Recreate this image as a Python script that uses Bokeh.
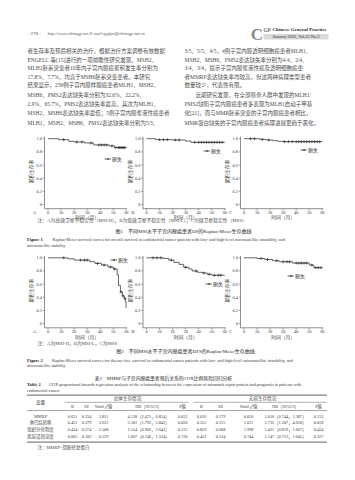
import numpy as np
from bokeh.plotting import figure
from bokeh.models import Range1d, Legend, LegendItem
from bokeh.core.properties import value
from bokeh.embed import file_html
from bokeh.resources import INLINE

W, H = 355, 480
SERIF = "'Liberation Serif', 'Noto Sans CJK SC'"
INK = "#3a3a3a"
BODY = "#4a4a4a"

# ---------------- data ----------------
month_ticks = [0, 10, 20, 30, 40, 50, 60]
surv_ticks = [0.0, 0.2, 0.4, 0.6, 0.8, 1.0]
surv_tick_labels = ["0", "0.2", "0.4", "0.6", "0.8", "1.0"]

# Figure 1: overall survival (step times in months, survival after each step, censor times)
os_msih_t = [0, 8, 16, 20, 28, 35, 47, 51, 60]
os_msih_s = [1.0, 0.985, 0.96, 0.95, 0.935, 0.905, 0.89, 0.865, 0.865]
os_msih_c = [12, 22, 26, 33, 39, 41, 43, 45, 49, 52, 54, 55, 56, 57, 58, 59]

os_msil_t = [0, 7, 20, 30, 34, 60]
os_msil_s = [1.0, 0.985, 0.98, 0.965, 0.945, 0.945]
os_msil_c = [10, 13, 16, 22, 25, 37, 40, 42, 44, 46, 48, 50, 52, 54, 56, 58]

os_mss_t = [0, 12, 17, 22, 26, 30, 60]
os_mss_s = [1.0, 0.99, 0.98, 0.97, 0.96, 0.955, 0.955]
os_mss_c = [5, 8, 14, 19, 31, 34, 37, 40, 42, 44, 46, 48, 50, 52, 54, 56, 58]

# Figure 2: disease-free survival
dfs_msih_t = [0, 15, 20, 32, 36, 41, 46, 50, 53, 54, 55.5, 57, 58.5, 59.3, 59.8, 60]
dfs_msih_s = [1.0, 0.985, 0.965, 0.94, 0.915, 0.89, 0.86, 0.83, 0.74, 0.58, 0.48, 0.42, 0.38, 0.33, 0.24, 0.24]
dfs_msih_c = [12, 25, 28, 30, 38, 43, 48, 51, 56, 57.5, 59]

dfs_msil_t = [0, 13, 17, 21, 25, 28.5, 32.5, 35, 39, 42.5, 46.5, 50, 60]
dfs_msil_s = [1.0, 0.99, 0.965, 0.93, 0.9, 0.855, 0.83, 0.8, 0.78, 0.77, 0.75, 0.735, 0.735]
dfs_msil_c = [5, 8, 11, 19, 30, 38, 44, 48, 52, 55, 57]

dfs_mss_t = [0, 10, 16, 22, 27, 37, 50, 53.5, 60]
dfs_mss_s = [1.0, 0.99, 0.975, 0.955, 0.94, 0.92, 0.89, 0.85, 0.85]
dfs_mss_c = [13, 18, 25, 30, 33, 35, 40, 42, 44, 46, 48, 52, 55, 57, 59]

# Table 2
table_vars = ["MMRP", "淋巴结转移", "组织分化程度", "肌层浸润深度"]
os_B = ["0.651", "0.431", "0.434", "0.065"]
os_SE = ["0.334", "0.379", "0.274", "0.182"]
os_wald = ["3.811", "3.625", "2.508", "0.129"]
os_HR = ["4.128（2.471，6.854）", "3.581（1.792，5.842）", "1.554（0.902，2.642）", "1.067（0.746，1.524）"]
os_P = ["0.012", "0.020", "0.113", "0.720"]
dfs_B = ["0.016", "0.355", "0.859", "0.452"]
dfs_SE = ["0.179", "0.315", "0.608", "0.524"]
dfs_wald = ["0.010", "1.011", "1.998", "0.744"]
dfs_HR = ["1.016（0.744，1.387）", "2.735（1.207，4.628）", "1.421（0.859，1.607）", "1.147（0.713，1.645）"]
dfs_P = ["0.153", "0.018", "0.434", "0.327"]
table_head = ["B", "SE", "Wald χ²值", "HR（95%CI）", "P值", "B", "SE", "Wald χ²值", "HR（95%CI）", "P值"]

# Page texts
left_col = [
    "者生存率及预后相关的治疗，根据治疗方案调整有效数据",
    "ENGELC 等[15]进行的一项前瞻性研究发现，MSH2、",
    "MLH1胚系突变者10年内子宫内膜癌累积发生率分别为",
    "17.8%、7.7%，均高于MSH6胚系突变患者。本研究",
    "结果显示，239例子宫内膜样腺癌患者MLH1、MSH2、",
    "MSH6、PMS2表达缺失率分别为32.6%、22.2%、",
    "2.9%、65.7%，PMS2表达缺失率最高，其次为MLH1、",
    "MSH2、MSH6表达缺失率最低；5例子宫内膜浆液性癌患者",
    "MLH1、MSH2、MSH6、PMS2表达缺失率分别为5/5、",
]
right_col = [
    "3/5、5/5、4/5，4例子宫内膜透明细胞癌患者MLH1、",
    "MSH2、MSH6、PMS2表达缺失率分别为4/4、2/4、",
    "3/4、3/4，提示子宫内膜浆液性癌及透明细胞癌患",
    "者MMRP表达缺失率均较高，但这两种病理类型患者",
    "数量较少，代表性有限。",
    "　　近期研究发现，在全部筛查人群中发现的MLH1/",
    "PMS2缺陷子宫内膜癌患者多表现为MLH1启动子甲基",
    "化[21]，而与MMR胚系突变的子宫内膜癌患者相比，",
    "MMR蛋白缺失的子宫内膜癌患者病理进展更趋于恶化。",
]

# ---------------- page figure ----------------
p = figure(width=W, height=H, x_range=Range1d(0, W), y_range=Range1d(H, 0),
           output_backend="svg", toolbar_location=None,
           x_axis_type=None, y_axis_type=None, min_border=0,
           outline_line_color=None, background_fill_color="white",
           border_fill_color="white")


def txt(xs, ys, texts, size, align="left", color=INK, style="normal", angle=0.0):
    p.text(x=xs, y=ys, text=texts, text_font=value(SERIF), text_font_size=f"{size}px",
           text_align=align, text_baseline="middle", text_color=color,
           text_font_style=style, angle=angle)


# header
txt([27], [33.3], ["· 278 ·"], 5.0, color=BODY)
txt([47], [33.3], ["http://www.chinagp.net    E-mail:zgqkyx@chinagp.net.cn"], 4.4, color="#5a5a5a", style="italic")
p.quad(left=[263], right=[328], top=[33.5], bottom=[39.0], fill_color="#d9d9d9", line_color=None)
txt([256.5], [33.5], ["C"], 17, align="center", color="#8a8a8a", style="bold")
txt([263], [29.2], ["GP"], 5.2, color="#6a6a6a", style="bold")
txt([272], [29.2], ["Chinese General Practice"], 5.0, color="#2a2a2a", style="bold")
txt([272], [36.3], ["January 2022, Vol.25 No.3"], 4.4, color="#2a2a2a")

# body text
line_y = [50.7, 59.2, 67.7, 76.0, 84.5, 94.0, 103.3, 112.7, 122.0]
txt([27] * 9, line_y, left_col, 5.5, color=BODY)
txt([184] * 9, line_y, right_col, 5.5, color=BODY)

# ---------------- KM panels via sub-coordinates ----------------
PXM = 1.305     # px per month
PXU = 65.8      # px per survival unit
AX = -3.5 / PXM  # y-axis position (months)
AY = -4.2 / PXU  # x-axis position (survival)
col_x0 = [47.5, 146.0, 243.5]
row_y1 = [138.2, 257.3]


def panel(ci, ri, t, s, c, letter, leg_xy):
    x0, y1 = col_x0[ci], row_y1[ri]
    sub = p.subplot(x_source=Range1d(0, 60), y_source=Range1d(0, 1),
                    x_target=Range1d(x0, x0 + 60 * PXM),
                    y_target=Range1d(y1 + PXU, y1))
    ac = "#444444"
    sub.segment(x0=[AX], y0=[AY], x1=[AX], y1=[1.03], line_color=ac, line_width=0.6)
    sub.segment(x0=[AX], y0=[AY], x1=[60.6], y1=[AY], line_color=ac, line_width=0.6)
    sub.segment(x0=[AX] * len(surv_ticks), y0=surv_ticks,
                x1=[AX - 1.8 / PXM] * len(surv_ticks), y1=surv_ticks, line_color=ac, line_width=0.5)
    sub.segment(x0=month_ticks, y0=[AY] * 7, x1=month_ticks, y1=[AY - 1.8 / PXU] * 7,
                line_color=ac, line_width=0.5)
    fs = "4.3px"
    sub.text(x=[AX] * len(surv_ticks), y=surv_ticks, text=surv_tick_labels, x_offset=-2.6,
             text_align="right", text_baseline="middle", text_font=value(SERIF),
             text_font_size=fs, text_color=INK)
    sub.text(x=month_ticks, y=[AY] * 7, text=[str(m) for m in month_ticks], y_offset=3.4,
             text_align="center", text_baseline="middle", text_font=value(SERIF),
             text_font_size=fs, text_color=INK)
    sub.text(x=[30], y=[AY], text=["时间（月）"], y_offset=9.2, text_align="center",
             text_baseline="middle", text_font=value(SERIF), text_font_size="4.8px", text_color=INK)
    sub.text(x=[AX], y=[0.5], text=["累积生存率"], x_offset=-12.8, angle=np.pi / 2,
             text_align="center", text_baseline="middle", text_font=value(SERIF),
             text_font_size="4.8px", text_color=INK)
    sub.text(x=[AX], y=[AY], text=[letter], x_offset=-10, y_offset=3.6, text_align="center",
             text_baseline="middle", text_font=value(SERIF), text_font_size="4.6px", text_color=INK)

    t = np.asarray(t, float)
    s = np.asarray(s, float)
    c = np.asarray(c, float)
    cy = s[np.searchsorted(t, c, side="right") - 1]
    r_line = sub.step(x=t, y=s, mode="after", line_color="#262626", line_width=0.7)
    r_cen = sub.scatter(x=c, y=cy, marker="cross", size=3, line_color="#262626", line_width=0.6)

    lx, ly = leg_xy
    leg = Legend(items=[LegendItem(label="删失", renderers=[r_line, r_cen])],
                 location=(lx, H - ly - 2.5), orientation="vertical",
                 label_text_font=SERIF, label_text_font_size="5px",
                 label_text_color=INK, label_height=5, glyph_height=5, glyph_width=7,
                 label_standoff=1, padding=0, margin=0, spacing=0,
                 border_line_color=None, background_fill_alpha=0)
    p.add_layout(leg)


panel(0, 0, os_msih_t, os_msih_s, os_msih_c, "A", (104, 159))
panel(1, 0, os_msil_t, os_msil_s, os_msil_c, "B", (203, 151))
panel(2, 0, os_mss_t, os_mss_s, os_mss_c, "C", (300, 150))
panel(0, 1, dfs_msih_t, dfs_msih_s, dfs_msih_c, "A", (110, 260))
panel(1, 1, dfs_msil_t, dfs_msil_s, dfs_msil_c, "B", (205, 284))
panel(2, 1, dfs_mss_t, dfs_mss_s, dfs_mss_c, "C", (287, 276))

# ---------------- captions ----------------
txt([37], [220.3], ["注：A为高微卫星不稳定性（MSI-H），B为低微卫星不稳定性（MSI-L），C为微卫星稳定性（MSS）"], 4.8, color=BODY)
txt([183], [230.7], ["图1　不同MSI水平子宫内膜癌患者OS的Kaplan-Meier生存曲线"], 5.0, align="center", color="#262626")
txt([26.5], [239.3], ["Figure 1"], 4.4, style="bold", color="#262626")
txt([52], [239.3], ["Kaplan-Meier survival curves for overall survival in endometrial cancer patients with low- and high-level microsatellite instability, and"], 4.3)
txt([26.5], [245.3], ["microsatellite stability"], 4.3)

txt([37], [342.7], ["注：A为MSI-H，B为MSI-L，C为MSS"], 4.8, color=BODY)
txt([185], [350.7], ["图2　不同MSI水平子宫内膜癌患者DFS的Kaplan-Meier生存曲线"], 5.0, align="center", color="#262626")
txt([26.5], [359.5], ["Figure 2"], 4.4, style="bold", color="#262626")
txt([51.5], [359.5], ["Kaplan-Meier survival curves for disease-free survival in endometrial cancer patients with low- and high-level microsatellite instability, and"], 4.3)
txt([26.5], [365.3], ["microsatellite stability"], 4.3)

# ---------------- table ----------------
txt([163], [377.7], ["表2　MMRP与子宫内膜癌患者预后关系的COX比例风险回归分析"], 4.8, align="center", color="#262626")
txt([26.5], [384.3], ["Table 2"], 4.4, style="bold", color="#262626")
txt([48.5], [384.3], ["COX proportional hazards regression analysis of the relationship between the expression of mismatch repair protein and prognosis in patients with"], 4.3)
txt([26.5], [390.0], ["endometrial cancer"], 4.3)

rule = "#3c3c3c"
p.segment(x0=[26.5, 26.5, 26.5], y0=[394.6, 410.0, 441.6], x1=[326.5, 326.5, 326.5],
          y1=[394.6, 410.0, 441.6], line_color=rule, line_width=[0.8, 0.45, 0.8])
p.segment(x0=[64, 193], y0=[401.8, 401.8], x1=[188, 326.5], y1=[401.8, 401.8],
          line_color=rule, line_width=0.4)

col_x = [72, 86, 103, 148, 182, 201, 220, 248, 285, 318]
txt([127, 262], [398.3, 398.3], ["总体生存情况", "无病生存情况"], 4.6, align="center", color=BODY)
txt([40], [402.3], ["变量"], 4.6, align="center", color=BODY)
txt(col_x, [406.2] * 10, table_head, 4.3, align="center")

row_y = [415.5, 422.2, 428.8, 435.5]
txt([40] * 4, row_y, table_vars, 4.4, align="center", color=BODY)
for cx, colvals in zip(col_x, [os_B, os_SE, os_wald, os_HR, os_P,
                               dfs_B, dfs_SE, dfs_wald, dfs_HR, dfs_P]):
    txt([cx] * 4, row_y, colvals, 4.3, align="center")

txt([37], [446.7], ["注：MMRP=错配修复蛋白"], 4.5, color=BODY)

open("out.html", "w").write(file_html(p, INLINE))
